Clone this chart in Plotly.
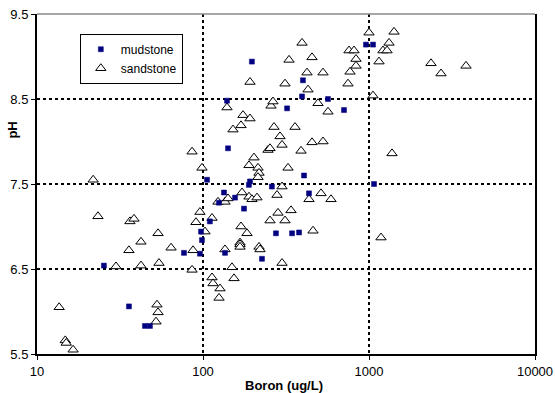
import plotly.graph_objects as go

# Mudstone samples: boron (ug/L) and pH
mud_boron = [197, 400, 395, 566, 139.5, 321, 707, 959, 1057, 141.5,
             406, 105.7, 192, 189, 1072, 260, 133.8, 156, 435, 124.8,
             176.6, 110, 97.3, 98.6, 76.8, 95.9, 135.7, 275, 344, 379,
             226.6, 25.3, 35.8, 44.7, 47.9]
mud_ph = [8.94, 8.72, 8.53, 8.50, 8.48, 8.39, 8.37, 9.14, 9.14, 7.92,
          7.60, 7.55, 7.53, 7.49, 7.50, 7.47, 7.40, 7.34, 7.39, 7.28,
          7.21, 7.06, 6.94, 6.84, 6.69, 6.68, 6.69, 6.92, 6.92, 6.93,
          6.62, 6.54, 6.06, 5.83, 5.83]

# Sandstone samples: boron (ug/L) and pH
sand_boron = [13.6, 14.8, 15.0, 16.5, 21.8, 23.3, 36.3, 38.4, 35.8, 42.3,
              53.6, 64.2, 29.9, 42.3, 54.3, 85.9, 87.1, 52.8, 53.6, 52.1,
              85.9, 98.6, 191.9, 139.5, 174.2, 191.9, 169.4, 151.6, 202.9, 189.3,
              214.5, 217.5, 214.5, 246.4, 253.3, 267.7, 291.0, 299.2, 256.8, 264.0,
              329.8, 311.9, 394.9, 453.6, 423.2, 429.1, 528.4, 493.0, 566.2, 358.4,
              453.6, 528.4, 389.4, 325.2, 747.2, 768.3, 834.9, 834.9, 757.7, 812.1,
              1000, 1057, 1149, 1214, 1284, 1320, 1415, 2363, 2715, 3840,
              1376, 1181, 171.8, 189.3, 197.3, 211.5, 123.1, 135.7, 141.5, 299.2,
              279.1, 435.1, 513.9, 590.3, 95.9, 113.3, 90.7, 102.8, 169.4, 184.1,
              167.1, 167.1, 167.1, 217.5, 220.5, 135.7, 283.0, 339.0, 253.3, 311.9,
              459.9, 299.2, 149.5, 113.3, 114.9, 153.7, 126.6, 124.9]
sand_ph = [6.05, 5.66, 5.63, 5.55, 7.55, 7.12, 7.06, 7.09, 6.72, 6.82,
           6.92, 6.75, 6.53, 6.54, 6.57, 6.49, 6.72, 6.08, 5.99, 5.88,
           7.88, 7.69, 8.70, 8.40, 8.31, 8.27, 8.19, 8.14, 7.81, 7.72,
           7.69, 7.63, 7.58, 7.90, 7.92, 8.17, 8.06, 7.96, 8.42, 8.47,
           8.96, 8.68, 9.16, 8.99, 8.81, 8.61, 8.81, 8.45, 8.35, 8.17,
           7.99, 8.00, 7.89, 7.69, 8.68, 8.82, 8.89, 8.97, 9.07, 9.07,
           9.28, 8.54, 8.94, 9.07, 9.07, 9.16, 9.29, 8.92, 8.80, 8.89,
           7.86, 6.87, 7.40, 7.35, 7.32, 7.34, 7.29, 7.29, 7.33, 7.47,
           7.37, 7.32, 7.39, 7.32, 7.17, 7.10, 7.05, 6.94, 7.00, 6.92,
           6.81, 6.79, 6.76, 6.76, 6.73, 6.73, 7.16, 7.19, 7.07, 7.07,
           6.95, 6.57, 6.52, 6.40, 6.33, 6.39, 6.27, 6.16]

x_tickvals = [10, 100, 1000, 10000]
x_ticktext = ["10", "100", "1000", "10000"]
y_tickvals = [5.5, 6.5, 7.5, 8.5, 9.5]
y_ticktext = ["5.5", "6.5", "7.5", "8.5", "9.5"]
x_title = "Boron (ug/L)"
y_title = "pH"

FONT = "Liberation Sans, Arial, sans-serif"

fig = go.Figure()
fig.add_trace(go.Scatter(
    x=sand_boron, y=sand_ph, mode="markers", name="sandstone",
    legendrank=2,
    marker=dict(symbol="triangle-up", size=9, color="white",
                line=dict(color="black", width=1)),
))
fig.add_trace(go.Scatter(
    x=mud_boron, y=mud_ph, mode="markers", name="mudstone",
    legendrank=1,
    marker=dict(symbol="square", size=5, color="#000080",
                line=dict(color="#000080", width=0.5)),
))

fig.update_layout(
    width=555, height=393,
    margin=dict(l=37, r=20, t=14, b=39, autoexpand=False),
    paper_bgcolor="white", plot_bgcolor="white",
    font=dict(family=FONT, size=13, color="black"),
    showlegend=True,
    legend=dict(x=0.086, y=0.942, xanchor="left", yanchor="top",
                bgcolor="white", bordercolor="black", borderwidth=1,
                font=dict(size=12), itemwidth=30, tracegroupgap=0),
    xaxis=dict(type="log", range=[1, 4], tickvals=x_tickvals, ticktext=x_ticktext,
               showgrid=True, gridcolor="black", griddash="dot", gridwidth=1.5,
               showline=True, linecolor="black", linewidth=2,
               ticks="outside", ticklen=4, tickcolor="black",
               zeroline=False, automargin=False),
    yaxis=dict(range=[5.5, 9.5], tickvals=y_tickvals, ticktext=y_ticktext,
               showgrid=True, gridcolor="black", griddash="dot", gridwidth=1.5,
               showline=True, linecolor="black", linewidth=2, mirror=True,
               ticks="outside", ticklen=4, tickcolor="black",
               zeroline=False, automargin=False),
    shapes=[dict(type="line", xref="paper", yref="paper", x0=0, x1=1, y0=1, y1=1,
                 line=dict(color="#888888", width=1.5))],
    annotations=[
        dict(text="<b>" + x_title + "</b>", xref="paper", yref="paper",
             x=0.495, y=0, xanchor="center", yanchor="middle", yshift=-31,
             showarrow=False, font=dict(size=13)),
        dict(text="<b>" + y_title + "</b>", xref="paper", yref="paper",
             x=0, y=0.657, xanchor="center", yanchor="middle", xshift=-24,
             textangle=-90, showarrow=False, font=dict(size=13)),
    ],
)

fig.write_html("out.html")
